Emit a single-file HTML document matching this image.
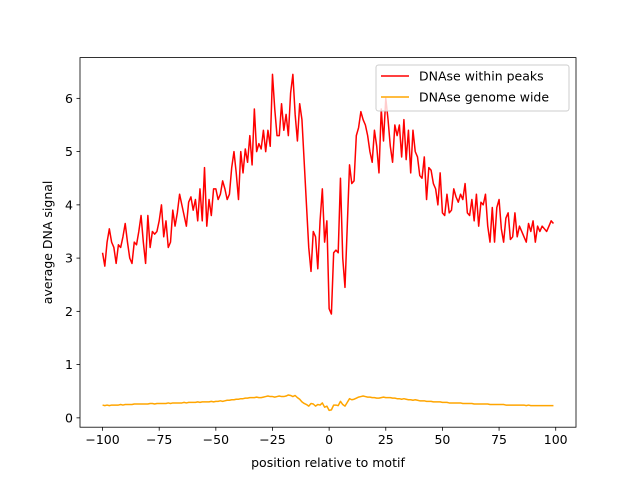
<!DOCTYPE html>
<html><head><meta charset="utf-8"><style>
body{margin:0;background:#fff}
svg{display:block;font-family:"DejaVu Sans","Liberation Sans",sans-serif}
</style></head><body>
<svg id="chart" width="640" height="480" viewBox="0 0 640 480">
<rect width="640" height="480" fill="#fff"/>
<g id="plot"></g>
</svg>
<script>
const xTicks=[-100,-75,-50,-25,0,25,50,75,100];
const yTicks=[0,1,2,3,4,5,6];
const xLabel="position relative to motif";
const yLabel="average DNA signal";
const peaks=[3.1,2.85,3.3,3.55,3.3,3.2,2.9,3.25,3.2,3.4,
3.65,3.3,3.0,2.9,3.3,3.25,3.5,3.8,3.3,2.9,
3.8,3.2,3.5,3.45,3.5,3.7,4.0,3.4,3.7,3.2,
3.3,3.9,3.6,3.85,4.2,4.0,3.8,3.6,4.05,4.15,
3.9,4.1,3.7,4.3,3.7,4.7,3.6,4.1,3.8,4.3,
4.3,4.1,4.2,4.45,4.3,4.1,4.2,4.7,5.0,4.6,
4.1,5.0,4.6,5.05,4.8,5.3,4.75,5.8,5.0,5.15,
5.05,5.4,5.0,5.4,5.1,6.45,5.8,5.3,5.3,5.9,
5.4,5.7,5.3,6.1,6.45,5.7,5.2,5.9,5.6,4.8,
4.0,3.2,2.75,3.5,3.4,2.8,3.7,4.3,3.3,3.7,
2.05,1.95,3.1,3.15,3.1,4.5,3.0,2.45,3.6,4.75,
4.4,4.45,5.3,5.45,5.75,5.6,5.5,5.3,5.0,4.8,
5.4,5.1,4.6,5.8,5.2,6.0,5.6,5.1,4.8,5.5,
5.3,5.5,4.9,5.6,4.85,5.4,4.6,5.4,5.0,4.9,
4.55,4.5,4.9,4.1,4.7,4.65,4.4,4.3,4.0,4.6,
3.85,3.8,4.2,3.85,3.9,4.3,4.15,4.05,4.2,4.1,
4.4,3.85,3.8,4.1,3.7,4.2,3.6,4.05,4.0,4.2,
3.6,3.3,3.95,3.3,3.95,4.1,3.55,3.3,3.75,3.85,
3.35,3.4,3.85,3.4,3.6,3.5,3.4,3.3,3.65,3.5,
3.7,3.3,3.6,3.5,3.6,3.55,3.5,3.6,3.7,3.65];
const genome=[.24,.23,.24,.23,.24,.24,.24,.24,.25,.24,
.25,.25,.25,.25,.26,.26,.26,.26,.26,.26,
.26,.27,.27,.26,.27,.27,.27,.27,.27,.28,
.27,.28,.28,.28,.28,.28,.29,.28,.29,.29,
.29,.29,.30,.29,.30,.30,.30,.30,.31,.30,
.31,.31,.32,.31,.32,.33,.33,.34,.34,.35,
.35,.36,.36,.37,.37,.38,.38,.38,.39,.38,
.38,.39,.40,.41,.40,.40,.39,.40,.41,.40,
.40,.41,.43,.42,.40,.42,.38,.35,.30,.27,
.25,.22,.27,.26,.22,.25,.24,.28,.20,.22,
.14,.15,.24,.24,.23,.31,.25,.22,.29,.36,
.34,.35,.37,.39,.40,.41,.40,.39,.39,.38,
.38,.37,.37,.38,.39,.38,.38,.38,.37,.37,
.36,.36,.35,.36,.35,.34,.34,.33,.34,.33,
.32,.32,.32,.31,.31,.31,.30,.30,.30,.30,
.29,.29,.29,.28,.28,.28,.28,.28,.28,.27,
.27,.27,.27,.27,.26,.26,.26,.26,.26,.26,
.26,.25,.25,.25,.25,.25,.25,.25,.24,.24,
.24,.24,.24,.24,.24,.24,.24,.23,.24,.23,
.23,.23,.23,.23,.23,.23,.23,.23,.23,.23];
const xStart=-100;

const L=80,R=576,T=57.6,B=427.2;
const n=peaks.length;
const xmin=xStart,xmax=xStart+n-1,xpad=(xmax-xmin)*0.05;
const all=peaks.concat(genome);
const ymn=Math.min(...all),ymx=Math.max(...all),ypad=(ymx-ymn)*0.05;
const X=v=>L+(v-(xmin-xpad))/((xmax+xpad)-(xmin-xpad))*(R-L);
const Y=v=>B-(v-(ymn-ypad))/((ymx+ypad)-(ymn-ypad))*(B-T);
const NS="http://www.w3.org/2000/svg";
const g=document.getElementById('plot');
function el(t,a,p){const e=document.createElementNS(NS,t);for(const k in a)e.setAttribute(k,a[k]);(p||g).appendChild(e);return e;}

function series(vals,color,name){
  const d=vals.map((v,i)=>(i?'L':'M')+X(xStart+i).toFixed(2)+','+Y(v).toFixed(2)).join('');
  const p=el('path',{d:d,fill:'none',stroke:color,'stroke-width':1.5,'stroke-linejoin':'round'});
  
  
}
series(genome,'#ffa500','genome-wide-line');
series(peaks,'#ff0000','within-peaks-line');

const frame=el('rect',{x:L,y:T,width:R-L,height:B-T,fill:'none',stroke:'#000','stroke-width':0.8});



xTicks.forEach(t=>{
  const x=X(t);
  const tk=el('line',{x1:x,x2:x,y1:B,y2:B+3.5,stroke:'#000','stroke-width':0.8});
  
  
  const tx=el('text',{x:x,y:B+17,'text-anchor':'middle','font-size':'12.5px',fill:'#000'});
  tx.textContent=t<0?'\u2212'+(-t):String(t);
  
  
});
yTicks.forEach(t=>{
  const y=Y(t);
  const tk=el('line',{x1:L-3.5,x2:L,y1:y,y2:y,stroke:'#000','stroke-width':0.8});
  
  
  const tx=el('text',{x:L-7,y:y+4.5,'text-anchor':'end','font-size':'12.5px',fill:'#000'});
  tx.textContent=String(t);
  
  
});
const xl=el('text',{x:(L+R)/2,y:467,'text-anchor':'middle','font-size':'12.5px',fill:'#000'});
xl.textContent=xLabel;


const yl=el('text',{x:0,y:0,'text-anchor':'middle','font-size':'12.5px',fill:'#000',transform:'translate(52,'+((T+B)/2)+') rotate(-90)'});
yl.textContent=yLabel;



const lg=el('g',{});


el('rect',{x:376,y:65,width:193,height:46,rx:2.5,fill:'#fff','fill-opacity':0.8,stroke:'#ccc','stroke-width':1},lg);
[['DNAse within peaks','#ff0000',76],['DNAse genome wide','#ffa500',97]].forEach(([lab,c,y])=>{
  const ln=el('line',{x1:381,x2:409,y1:y,y2:y,stroke:c,'stroke-width':1.5},lg);
  
  
  const t=el('text',{x:419,y:y+4.5,'font-size':'12.5px',fill:'#000'},lg);
  t.textContent=lab;
  
  
});
</script>
</body></html>
